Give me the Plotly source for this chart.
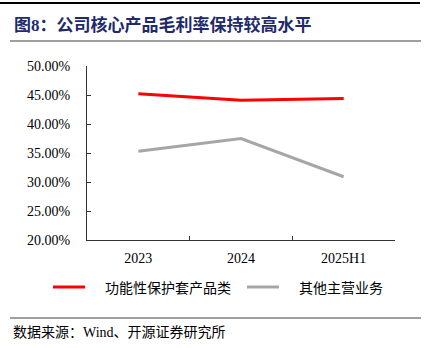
import plotly.graph_objects as go

# Gross margin by product line (%)
periods = ["2023", "2024", "2025H1"]
protective_cases = [45.2, 44.1, 44.4]
other_business = [35.3, 37.5, 30.9]
series_names = ["功能性保护套产品类", "其他主营业务"]
y_ticks = [20, 25, 30, 35, 40, 45, 50]

W, H = 431, 348
L, R, T, B = 87, 36, 66, 108
PW, PH = W - L - R, H - T - B

serif_cjk = "Liberation Serif, Times New Roman, Noto Sans CJK SC"
red = "#FF0000"
gray = "#A6A6A6"

fig = go.Figure()
fig.add_trace(go.Scatter(x=periods, y=protective_cases, name=series_names[0],
                         mode="lines", line=dict(color=red, width=3)))
fig.add_trace(go.Scatter(x=periods, y=other_business, name=series_names[1],
                         mode="lines", line=dict(color=gray, width=3)))

axis_col = "#333333"
fig.update_layout(
    width=W, height=H,
    margin=dict(l=L, r=R, t=T, b=B),
    paper_bgcolor="white", plot_bgcolor="white",
    showlegend=False,
    font=dict(family=serif_cjk, size=14, color="#000000"),
    xaxis=dict(type="category", range=[-0.5, 2.5], showgrid=False,
               showline=True, linecolor=axis_col, linewidth=1,
               ticks="inside", ticklen=4, tickcolor=axis_col,
               tickson="boundaries", tickfont=dict(size=14),
               ticklabelstandoff=5, zeroline=False),
    yaxis=dict(range=[20, 50], tickvals=y_ticks,
               ticktext=[f"{v:.2f}%" for v in y_ticks],
               showgrid=False, showline=True, linecolor=axis_col, linewidth=1,
               ticks="inside", ticklen=4, tickcolor=axis_col,
               tickfont=dict(size=14), ticklabelstandoff=13, zeroline=False),
)

# page pixel -> paper (plot-area) coordinates
def px_x(v):
    return (v - L) / PW

def px_y(v):
    return 1 - (v - T) / PH

shapes = [
    # top border and section rules
    dict(type="line", xref="paper", yref="paper", x0=px_x(0), x1=px_x(420),
         y0=px_y(3), y1=px_y(3), line=dict(color="#000000", width=2)),
    dict(type="line", xref="paper", yref="paper", x0=px_x(10), x1=px_x(421),
         y0=px_y(41), y1=px_y(41), line=dict(color="#7F7F7F", width=1.5)),
    dict(type="line", xref="paper", yref="paper", x0=px_x(10), x1=px_x(421),
         y0=px_y(318), y1=px_y(318), line=dict(color="#7F7F7F", width=1.5)),
    # legend samples
    dict(type="line", xref="paper", yref="paper", x0=px_x(53), x1=px_x(85),
         y0=px_y(287), y1=px_y(287), line=dict(color=red, width=3)),
    dict(type="line", xref="paper", yref="paper", x0=px_x(247), x1=px_x(279),
         y0=px_y(287), y1=px_y(287), line=dict(color=gray, width=3)),
]

annotations = [
    dict(text="<b>图8：公司核心产品毛利率保持较高水平</b>", xref="paper", yref="paper",
         x=px_x(12), y=px_y(25), xanchor="left", yanchor="middle", showarrow=False,
         font=dict(family=serif_cjk, size=17, color="#1F2A6B")),
    dict(text=series_names[0], xref="paper", yref="paper",
         x=px_x(103), y=px_y(287), xanchor="left", yanchor="middle", showarrow=False,
         font=dict(family="Noto Sans CJK SC", size=14, color="#000000")),
    dict(text=series_names[1], xref="paper", yref="paper",
         x=px_x(297), y=px_y(287), xanchor="left", yanchor="middle", showarrow=False,
         font=dict(family="Noto Sans CJK SC", size=14, color="#000000")),
    dict(text="数据来源：Wind、开源证券研究所", xref="paper", yref="paper",
         x=px_x(11), y=px_y(332), xanchor="left", yanchor="middle", showarrow=False,
         font=dict(family=serif_cjk, size=14, color="#000000")),
]

fig.update_layout(shapes=shapes, annotations=annotations)
fig.write_html("out.html")
